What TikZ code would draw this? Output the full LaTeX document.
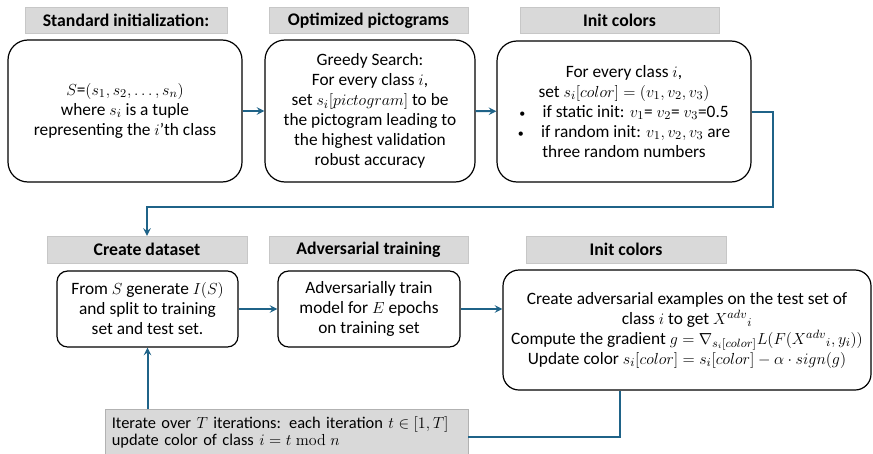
\documentclass[tikz,border=0pt]{standalone}
\usepackage[no-math]{fontspec}
\setmainfont{Carlito}
\usetikzlibrary{arrows}

\definecolor{linkblue}{HTML}{1F6388}
\definecolor{headgray}{HTML}{D9D9D9}

\tikzset{
  head/.style={fill=headgray, draw=black!22, line width=0.5pt,
    minimum width=#1, minimum height=20pt, inner sep=0pt,
    font=\fontsize{13.3}{15}\selectfont\bfseries},
  stage/.style={draw, line width=0.9pt, align=center,
    font=\fontsize{13}{15}\selectfont, inner sep=0pt},
  link/.style={draw=linkblue, line width=1.5pt},
}

\begin{document}
\begin{tikzpicture}[x=0.75pt, y=-0.75pt]
  \useasboundingbox (0, 0) rectangle (873, 453);

  % Standard initialization
  \node [head=151.5pt] (headinit) at (126, 20.5) {Standard initialization:};
  \node [stage, rounded corners=15pt, minimum width=175.5pt,
    minimum height=106.5pt] (initset) at (125, 111)
    {$S$=$(s_1, s_2, \ldots, s_n)$\\ where $s_i$ is a tuple\\
     representing the $i$'th class};

  % Optimized pictograms
  \node [head=149pt] (headpicto) at (368.5, 20.5) {Optimized pictograms};
  \node [stage, rounded corners=15pt, minimum width=157.5pt,
    minimum height=106.5pt] (picto) at (370, 111)
    {Greedy Search:\\ For every class $i$,\\ set $s_i[pictogram]$ to be\\
     the pictogram leading to\\ the highest validation\\ robust accuracy};

  % Init colors (first pass)
  \node [head=149pt] (headcolor) at (619.5, 20.5) {Init colors};
  \node [stage, rounded corners=15pt, minimum width=190.5pt,
    minimum height=105.75pt] (colorinit) at (624, 111.5)
    {For every class $i$,\\ set $s_i[color]=(v_1, v_2, v_3)$\\
     {\small\textbullet}\quad if static init: $v_1$= $v_2$= $v_3$=0.5\\
     {\small\textbullet}\quad if random init: $v_1, v_2, v_3$ are\\
     three random numbers};

  % Create dataset
  \node [head=150pt] (headdata) at (147, 249.5) {Create dataset};
  \node [stage, rounded corners=8pt, minimum width=135.75pt,
    minimum height=57pt] (dataset) at (147.5, 309)
    {From $S$ generate $I(S)$\\ and split to training\\ set and test set.};

  % Adversarial training
  \node [head=149pt] (headtrain) at (368.5, 249.5) {Adversarial training};
  \node [stage, rounded corners=8pt, minimum width=136.5pt,
    minimum height=57pt] (train) at (369, 309)
    {Adversarially train\\ model for $E$ epochs\\ on training set};

  % Init colors (update)
  \node [head=150pt] (headupdate) at (626, 249.5) {Init colors};
  \node [stage, rounded corners=12pt, minimum width=276pt,
    minimum height=90pt] (update) at (687, 330)
    {Create adversarial examples on the test set of\\
     class $i$ to get ${X^{adv}}_i$\\
     Compute the gradient $g=\nabla_{s_i[color]}L(F({X^{adv}}_i, y_i))$\\
     Update color $s_i[color]=s_i[color]-\alpha\cdot sign(g)$};

  % Iterations
  \node [fill=headgray, draw=black!30, line width=0.5pt,
    text width=262pt, minimum height=36pt, inner xsep=5pt, inner ysep=0pt,
    align=left, font=\fontsize{12.3}{11}\selectfont] (iterate) at (286.5, 433)
    {Iterate over $T$ iterations: each iteration $t\in[1,T]$\\
     update color of class $i=t\bmod n$\strut};

  % Edges
  \coordinate (turnright) at (773, 207);
  \coordinate (turnback) at (620, 437);
  \draw [link, -stealth] (initset) -- (picto);
  \draw [link, -stealth] (picto) -- (colorinit);
  \draw [link, -stealth] (colorinit.east) -| (turnright) -| (headdata.north);
  \draw [link, -stealth] (dataset) -- (train);
  \draw [link, -stealth] (train) -- (update.west |- train);
  \draw [link] (update.south -| turnback) -- (turnback)
        -- (iterate.east |- turnback);
  \draw [link, -stealth] (iterate.north -| dataset.south) -- (dataset.south);
\end{tikzpicture}
\end{document}
